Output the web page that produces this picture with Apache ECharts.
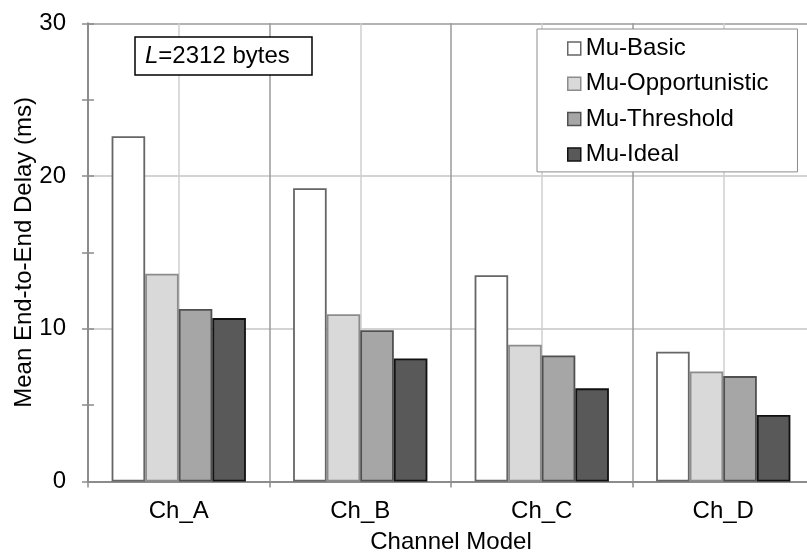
<!DOCTYPE html>
<html>
<head>
<meta charset="utf-8">
<script src="https://cdn.jsdelivr.net/npm/echarts@6/dist/echarts.min.js"></script>
<style>html,body{margin:0;padding:0;background:#fff}#c{width:807px;height:554px}</style>
</head>
<body>
<div id="c"></div>
<script>
const categories = ['Ch_A', 'Ch_B', 'Ch_C', 'Ch_D'];
const seriesNames = ['Mu-Basic', 'Mu-Opportunistic', 'Mu-Threshold', 'Mu-Ideal'];
const muBasic = [22.6, 19.2, 13.5, 8.5];
const muOpportunistic = [13.6, 10.95, 8.95, 7.2];
const muThreshold = [11.3, 9.9, 8.25, 6.9];
const muIdeal = [10.7, 8.05, 6.1, 4.35];
const yTicks = { min: 0, max: 30, interval: 10 };
const annotation = '{i|L}=2312 bytes';

const FONT = "'Liberation Sans', Arial, Helvetica, sans-serif";
const FS = 24;
const fills = ['#ffffff', '#d9d9d9', '#a6a6a6', '#595959'];
const borders = ['#666666', '#8c8c8c', '#505050', '#111111'];
const values = [muBasic, muOpportunistic, muThreshold, muIdeal];

const chart = echarts.init(document.getElementById('c'), null, { renderer: 'canvas' });
const series = seriesNames.map((n, i) => ({
  name: n,
  type: 'bar',
  data: values[i],
  barGap: '0%',
  barCategoryGap: '26%',
  itemStyle: { color: fills[i], borderColor: borders[i], borderWidth: 1.8 },
  emphasis: { disabled: true },
  animation: false
}));

chart.setOption({
  animation: false,
  textStyle: { fontFamily: FONT },
  title: {
    text: annotation,
    left: 135, top: 37,
    padding: [7, 22, 7, 10],
    borderColor: '#000', borderWidth: 1.5,
    backgroundColor: '#fff',
    textStyle: {
      fontFamily: FONT, fontSize: FS, fontWeight: 'normal', color: '#000', lineHeight: 24,
      rich: { i: { fontFamily: FONT, fontStyle: 'italic', fontSize: FS, color: '#000', lineHeight: 24 } }
    }
  },
  legend: {
    data: seriesNames,
    orient: 'vertical',
    left: 537, top: 29,
    padding: [6, 29, 4, 30],
    itemGap: 8.3,
    itemWidth: 13, itemHeight: 13,
    icon: 'rect',
    backgroundColor: '#fff',
    borderColor: '#8c8c8c', borderWidth: 1,
    itemStyle: { borderWidth: 1.5 },
    textStyle: { fontFamily: FONT, fontSize: FS, color: '#000', lineHeight: 27 }
  },
  grid: { left: 88, top: 23.3, width: 726, height: 458.2, containLabel: false, outerBoundsMode: 'none' },
  xAxis: [
    {
      type: 'category',
      data: categories,
      boundaryGap: true,
      name: 'Channel Model',
      nameLocation: 'middle',
      nameGap: 49,
      nameMoveOverlap: false,
      nameTextStyle: { fontFamily: FONT, fontSize: FS, color: '#000' },
      axisLine: { lineStyle: { color: '#8c8c8c', width: 2 } },
      axisTick: { show: true, length: 6, lineStyle: { color: '#8c8c8c', width: 1.5 } },
      axisLabel: { fontFamily: FONT, fontSize: FS, color: '#000', margin: 18 },
      splitLine: { show: false }
    },
    {
      type: 'value',
      min: 0, max: 4, interval: 0.5,
      position: 'bottom',
      axisLine: { show: false }, axisTick: { show: false }, axisLabel: { show: false },
      splitLine: { show: true, lineStyle: { color: ['#9a9a9a', '#cfcfcf'], width: 1.5 } }
    }
  ],
  yAxis: [
    {
      type: 'value',
      min: yTicks.min, max: yTicks.max, interval: yTicks.interval,
      name: 'Mean End-to-End Delay (ms)',
      nameLocation: 'middle',
      nameGap: 52,
      nameMoveOverlap: false,
      nameTextStyle: { fontFamily: FONT, fontSize: FS, color: '#000' },
      axisLine: { show: true, lineStyle: { color: '#8c8c8c', width: 2 } },
      axisTick: { show: true, length: 6, lineStyle: { color: '#8c8c8c', width: 1.5 } },
      minorTick: { show: true, splitNumber: 2, length: 6, lineStyle: { color: '#8c8c8c', width: 1.5 } },
      axisLabel: { fontFamily: FONT, fontSize: FS, color: '#000', margin: 22 },
      splitLine: { show: true, lineStyle: { color: ['#c4c4c4', '#c4c4c4', '#c4c4c4', '#9a9a9a'], width: 1.5 } }
    },
    {
      type: 'value',
      min: yTicks.min, max: yTicks.max, interval: yTicks.interval,
      position: 'left',
      axisLine: { show: false },
      axisTick: { show: true, inside: true, length: 6, lineStyle: { color: '#8c8c8c', width: 1.5 } },
      minorTick: { show: true, splitNumber: 2, length: 6, lineStyle: { color: '#8c8c8c', width: 1.5 } },
      axisLabel: { show: false },
      splitLine: { show: false }
    }
  ],
  series: series
});
</script>
</body>
</html>
